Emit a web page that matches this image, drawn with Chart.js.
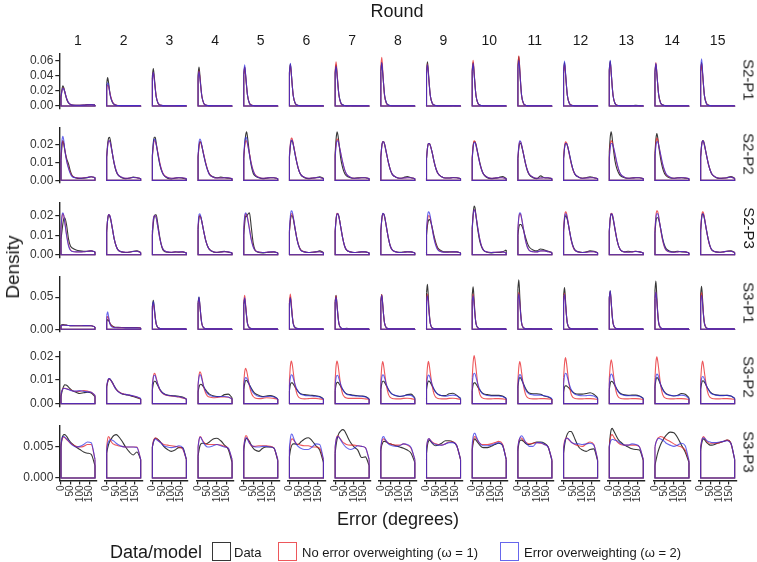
<!DOCTYPE html>
<html>
<head>
<meta charset="utf-8">
<script src="https://cdn.jsdelivr.net/npm/chart.js@4.4.1/dist/chart.umd.min.js"></script>
<style>
  body { margin: 0; background: #fff; font-family: "Liberation Sans", Arial, sans-serif; color: #1a1a1a; }
  #wrap { position: relative; width: 757px; height: 562px; overflow: hidden; }
  #wrap canvas { position: absolute; }
  .lbl { position: absolute; white-space: nowrap; transform: translate(-50%, -50%); }
  .lft { position: absolute; white-space: nowrap; transform: translateY(-50%); }
  .key { position: absolute; width: 17px; height: 17px; border: 1px solid; background: #fff; }
</style>
</head>
<body>
<div id="wrap"></div>
<script>
// density values are in units of 0.001 (the y axes print them back as densities)
const xs = [0, 5, 10, 15, 20, 30, 40, 50, 60, 80, 100, 120, 140, 160, 180];
const rounds = ['1','2','3','4','5','6','7','8','9','10','11','12','13','14','15'];
const panelNames = ['S2-P1', 'S2-P2', 'S2-P3', 'S3-P1', 'S3-P2', 'S3-P3'];
const seriesNames = ['Data', 'No error overweighting (\u03c9 = 1)', 'Error overweighting (\u03c9 = 2)'];
const rowMax = [66.7, 27.8, 25.6, 78, 21.2, 8.06];
const yTicks = [[0, 20, 40, 60], [0, 10, 20], [0, 10, 20], [0, 50], [0, 10, 20], [0, 5]];
const yDecimals = [2, 2, 2, 2, 2, 3];
const xTicks = [0, 50, 100, 150];

const s2p1Data = [
  [12,22,27,24,19,9,4,2,1.2,1,1,1.2,1.8,2,1.5],
  [30,38,31,21,13,5,2,1,0.6,0.5,0.5,0.5,0.5,0.5,0.4],
  [40,50,39,25,13,3.5,1.3,0.7,0.5,0.4,0.4,0.4,0.5,0.5,0.4],
  [42,52,40,25,13,3.5,1.2,0.6,0.5,0.4,0.4,0.4,0.4,0.4,0.3],
  [42,52,40,26,14,3.6,1.3,0.6,0.4,0.4,0.4,0.4,0.4,0.4,0.3],
  [45,56,43,27,14,3.8,1.3,0.6,0.4,0.4,0.4,0.4,0.4,0.4,0.3],
  [44,55,43,28,15,4.5,1.6,0.7,0.5,0.6,0.5,0.4,0.4,0.4,0.3],
  [46,58,44,28,14,3.8,1.3,0.6,0.4,0.4,0.4,0.4,0.4,0.5,0.3],
  [47,59,45,28,14,3.8,1.3,0.6,0.4,0.5,0.4,0.4,0.6,0.4,0.3],
  [46,58,44,28,14,3.8,1.3,0.6,0.4,0.4,0.4,0.4,0.4,0.4,0.3],
  [53,66,48,28,13,3.2,1,0.5,0.4,0.4,0.4,0.4,0.4,0.4,0.3],
  [46,58,44,28,14,3.8,1.3,0.6,0.4,0.4,0.4,0.4,0.4,0.4,0.3],
  [48,60,45,28,14,3.6,1.2,0.6,0.4,0.4,0.4,0.6,0.8,0.5,0.3],
  [45,56,43,27,14.5,4.2,1.6,0.7,0.4,0.4,0.4,0.4,0.4,0.4,0.3],
  [46,58,44,28,14,3.8,1.3,0.6,0.4,0.4,0.4,0.4,0.4,0.6,0.3]
];
const s2p1Omega1 = [
  [12,20,24,23,19,10,4.5,2.2,1.3,1,1,1.2,1.6,1.8,1.3],
  [24,28,26,20,14,6,2.5,1.2,0.7,0.5,0.5,0.5,0.5,0.5,0.4],
  [37,45,36,24,13,4,1.5,0.8,0.5,0.4,0.4,0.4,0.5,0.5,0.4],
  [38,47,37,24,13,3.8,1.4,0.7,0.5,0.4,0.4,0.4,0.4,0.4,0.3],
  [42,52,40,26,14,3.8,1.3,0.6,0.4,0.4,0.4,0.4,0.4,0.4,0.3],
  [44,55,42,27,14,3.8,1.3,0.6,0.4,0.4,0.4,0.4,0.4,0.4,0.3],
  [47,59,45,28,14,3.6,1.2,0.6,0.4,0.4,0.4,0.4,0.4,0.4,0.3],
  [52,65,48,28,13,3.3,1.1,0.5,0.4,0.4,0.4,0.4,0.4,0.4,0.3],
  [45,56,43,27,14,3.8,1.3,0.6,0.4,0.4,0.4,0.4,0.4,0.4,0.3],
  [49,61,46,28,14,3.6,1.2,0.6,0.4,0.4,0.4,0.4,0.4,0.4,0.3],
  [54,67,49,28,13,3.2,1,0.5,0.4,0.4,0.4,0.4,0.4,0.4,0.3],
  [45,56,43,27,14,3.8,1.3,0.6,0.4,0.4,0.4,0.4,0.4,0.4,0.3],
  [46,58,44,28,14,3.8,1.3,0.6,0.4,0.4,0.4,0.4,0.4,0.4,0.3],
  [46,58,44,28,14,3.8,1.3,0.6,0.4,0.4,0.4,0.4,0.4,0.4,0.3],
  [46,57,43,27,14,3.8,1.3,0.6,0.4,0.4,0.4,0.4,0.4,0.4,0.3]
];
const s2p1Omega2 = [
  [12,20,23.5,22.5,19,10,4.5,2.2,1.3,1,1,1.2,1.6,1.8,1.3],
  [26,31,28,20,13,5.5,2.2,1.1,0.6,0.5,0.5,0.5,0.5,0.5,0.4],
  [37,45,35,23,12.5,4,1.5,0.8,0.5,0.4,0.4,0.4,0.5,0.5,0.4],
  [37,46,36,24,13,3.8,1.4,0.7,0.5,0.4,0.4,0.4,0.4,0.4,0.3],
  [44,55,42,27,14,3.6,1.2,0.6,0.4,0.4,0.4,0.4,0.4,0.4,0.3],
  [46,57,43,27,14,3.8,1.3,0.6,0.4,0.4,0.4,0.4,0.4,0.4,0.3],
  [43,53,41,27,14.5,4,1.4,0.6,0.4,0.4,0.4,0.4,0.4,0.4,0.3],
  [46,58,44,28,14,3.8,1.3,0.6,0.4,0.4,0.4,0.4,0.4,0.4,0.3],
  [44,55,42,27,14,3.8,1.3,0.6,0.4,0.4,0.4,0.4,0.4,0.4,0.3],
  [46,57,43,27,14,3.8,1.3,0.6,0.4,0.4,0.4,0.4,0.4,0.4,0.3],
  [49,61,46,28,13.5,3.5,1.2,0.5,0.4,0.4,0.4,0.4,0.4,0.4,0.3],
  [48,60,45,28,14,3.7,1.2,0.6,0.4,0.4,0.4,0.4,0.4,0.4,0.3],
  [49,61,46,28,14,3.6,1.2,0.6,0.4,0.4,0.4,0.4,0.4,0.4,0.3],
  [46,57,43,27,14,3.8,1.3,0.6,0.4,0.4,0.4,0.4,0.4,0.4,0.3],
  [50,63,47,28,13.5,3.4,1.1,0.5,0.4,0.4,0.4,0.4,0.4,0.4,0.3]
];

const s2p2Data = [
  [11,19,22,20,17,12,9,5,2.5,1.3,1,1.2,1.5,2,1.5],
  [13,20,23.5,24,22,15,9,5,3,1.5,1,1.2,1.8,1.5,1],
  [14,21,24,24,21,14,8.5,5,3,1.2,0.8,1.2,1.5,1.2,0.8],
  [13,19,21.5,21,19,14,9.5,6,3.5,2,1.5,1.8,1.5,1.2,1],
  [12,20,25,27,24,15,8,4,2.5,1.5,1,1.2,1.5,1.5,1],
  [13,19,22,22,20,14.5,9.5,5.5,3.2,1.5,1,1.2,1.5,2,1.2],
  [15,23,27,25,21,12,7,4,2.5,1.5,1.2,1.5,1.5,1.5,1],
  [13,19,21.5,21.5,20,15,10,6,3.5,1.8,1.2,1.5,2.2,1.5,1],
  [12,18,20.5,20.5,19.5,15.5,10.5,6.5,4,2,1.3,1.3,1.6,1.5,1],
  [12,19,21.5,21.5,20,15,10,6,3.5,1.5,1,1.2,1.5,2.2,1],
  [12,18,20.5,20.5,19,14.5,9.5,5.5,3.2,1.5,1,2.5,1.5,1.3,1],
  [12,18,20.5,20.5,19.5,15,10,6,3.5,1.8,1.2,1.5,2,1.5,1],
  [16,24,27,24,19,11,6.5,4,2.5,1.5,1.2,1.3,1.5,1.5,1],
  [15,23,26,23.5,19,12,7,4,2.5,1.3,1.2,1.5,1.5,1.2,1],
  [13,19.5,22,22,20,14.5,9.5,5.8,3.4,1.6,1.1,1.2,1.5,2.2,1.2]
];
const s2p2Omega1 = [
  [13,20,22,20.5,17,11,7,4,2.3,1.5,1.3,1.4,1.7,2,1.5],
  [13,19,22,22,20.5,15,9.5,5.5,3.2,1.7,1.2,1.3,1.6,1.5,1],
  [13,19,22,22,20,15,9.5,5.5,3.2,1.7,1.2,1.3,1.5,1.5,1],
  [13,19,21.5,21,19,14.5,10,6,3.5,1.8,1.3,1.3,1.5,1.5,1],
  [13,19,22,22,20,15,9.5,5.5,3.2,1.7,1.2,1.3,1.5,1.5,1],
  [14,20.5,23.5,23,20.5,15,9.5,5.5,3.2,1.7,1.2,1.3,1.5,1.6,1],
  [14,20,23,22.5,20,15,10,6,3.5,1.8,1.2,1.2,1.5,1.5,1],
  [13,19,21.5,21.5,20,15,10,6,3.5,1.8,1.2,1.3,1.5,1.5,1],
  [12,18,20.5,20.5,19.5,15.5,10.5,6.5,4,2,1.3,1.3,1.5,1.5,1],
  [13,19.5,22,21.5,19.5,14.5,9.5,5.8,3.4,1.8,1.2,1.3,1.5,1.5,1],
  [12,19,21.5,21.5,19.5,14.5,9.5,5.8,3.4,1.8,1.2,1.3,1.5,1.5,1],
  [13,19,21.5,21,19.5,14.5,9.5,5.8,3.4,1.8,1.2,1.3,1.5,1.5,1],
  [13,19.5,22,21.5,19.5,14.5,9.5,5.8,3.4,1.8,1.2,1.3,1.5,1.5,1],
  [14,21,23.5,22.5,19.5,14,9,5.5,3.2,1.7,1.2,1.3,1.5,1.5,1],
  [13,19.5,22,21.5,19.5,14.5,9.5,5.8,3.4,1.8,1.2,1.3,1.5,1.8,1]
];
const s2p2Omega2 = [
  [14,22,24.5,22,17,10.5,6.5,3.5,2,1.4,1.2,1.3,1.6,2,1.5],
  [13,19,22,22,20.5,15,9.5,5.5,3.2,1.7,1.2,1.3,1.6,1.5,1],
  [14,20,23,22.5,20,14.5,9,5.2,3,1.6,1.2,1.3,1.5,1.5,1],
  [14,21,23,22,19.5,14,9.5,5.8,3.3,1.8,1.3,1.3,1.5,1.5,1],
  [14,21,24,23.5,20.5,14.5,9,5.2,3,1.6,1.2,1.3,1.5,1.5,1],
  [14,20,22.5,22,20,14.5,9.5,5.5,3.2,1.7,1.2,1.3,1.5,1.6,1],
  [13,19,22,22,20,15,10,6,3.5,1.8,1.2,1.2,1.5,1.5,1],
  [13,19,21.5,21.5,20,15,10,6,3.5,1.8,1.2,1.3,1.5,1.5,1],
  [12,18,20.5,20.5,19.5,15.5,10.5,6.5,4,2,1.3,1.3,1.5,1.5,1],
  [12,18.5,21,21,19.5,14.5,9.5,5.8,3.4,1.8,1.2,1.3,1.5,1.5,1],
  [13,19.5,22,21.5,19.5,14.5,9.5,5.8,3.4,1.8,1.2,1.3,1.5,1.5,1],
  [12,18,20.5,20.5,19.5,15,10,6,3.5,1.8,1.2,1.3,1.5,1.5,1],
  [12,18,20.5,20.5,19.5,15,10,6,3.5,1.8,1.2,1.3,1.5,1.5,1],
  [13,19,21.5,21.5,19.5,14.5,9.5,5.8,3.4,1.8,1.2,1.3,1.5,1.5,1],
  [13,19.5,22,21.5,19.5,14.5,9.5,5.8,3.4,1.8,1.2,1.3,1.5,1.8,1]
];

const s2p3Data = [
  [8,12,16,18.5,19,15,8,4.5,3.5,2.5,2,1.8,1.8,2,1.5],
  [12,18,20.5,20,18.5,13.5,8,4.5,2.5,1.5,1.2,1.3,1.8,2,1.2],
  [10,16,19.5,20.5,20.5,15,8.5,4,2,1.3,1.2,1.5,1.3,1.5,1],
  [13,19,20,19,17,12,7.5,4.5,2.8,1.5,1.2,1.5,1.8,1.3,1],
  [10,16,20,19.5,20.5,21.5,14,6,2.5,1.2,1,1.2,1.3,1.5,1],
  [12,17.5,20,20,18.5,13,8,4.5,2.5,1.5,1.2,1.3,1.5,2,1.2],
  [12,18,21,21,19.5,14,8.5,4.5,2.5,1.5,1.2,1.3,1.5,1.5,1],
  [12,18,21,21,19.5,14,8.5,4.5,2.6,1.6,1.3,1.4,1.6,1.5,1],
  [10,15,17.5,18,17.5,14,9.5,6,3.5,2,1.5,1.5,1.5,1.5,1],
  [14,21,25,24,20,12.5,7,4,2.3,1.3,1,1.2,1.2,1.5,2.5],
  [10,14,15.5,15.5,15,12.5,9,6,4,2.5,2,3,2.5,1.8,1.2],
  [12,18,20,19.5,18,13,8,4.5,2.5,1.5,1.2,1.5,2,1.8,1],
  [12,18.5,21,20.5,18.5,13,8,4.3,2.4,1.5,1.8,1.6,1.8,1.5,1],
  [11,17,19,19,18,13.5,8.5,5,3,1.8,1.5,1.8,1.5,1.5,1],
  [12,18.5,21,20.5,18.5,13,8,4.3,2.4,1.5,1.3,1.5,1.8,2,1.2]
];
const s2p3Omega1 = [
  [13,19,21,20,17,10,5,2.5,1.8,1.5,1.5,1.6,1.8,2,1.5],
  [12,18,20.5,20.5,19,13.5,8,4.5,2.5,1.5,1.3,1.4,1.7,1.8,1.2],
  [12,18,20,20,19,13.5,8,4.3,2.4,1.5,1.3,1.4,1.5,1.5,1],
  [14,19.5,20,19,17,12,7.5,4.5,2.8,1.6,1.3,1.4,1.6,1.5,1],
  [13,19,21,20.5,19,13.5,8,4.2,2.3,1.4,1.2,1.3,1.5,1.5,1],
  [12,18.5,21,21,19,13.5,8,4.3,2.4,1.5,1.2,1.3,1.5,1.6,1],
  [12,18.5,21.2,21,19.5,14,8.5,4.5,2.5,1.5,1.2,1.3,1.5,1.5,1],
  [12,18,21,21,19.5,14,8.5,4.5,2.5,1.5,1.2,1.3,1.5,1.5,1],
  [12,17.5,20,20,18.5,13.5,8.5,5,2.8,1.6,1.3,1.4,1.5,1.5,1],
  [13,20,23,22.5,20,13.5,8,4.3,2.4,1.4,1.2,1.3,1.4,1.5,1],
  [13,19,21,20.5,18.5,13,7.5,4,2.3,1.6,1.5,2,2,1.6,1.2],
  [13,19.5,22,21.5,19,13,7.5,4,2.3,1.4,1.2,1.3,1.6,1.6,1],
  [12,18.5,21.3,21,19,13.5,8,4.3,2.4,1.5,1.3,1.5,1.8,1.5,1],
  [13,20,22.5,22,19.5,13,7.5,4,2.3,1.4,1.3,1.5,1.7,1.5,1],
  [13,19.5,22,21.5,19,13,7.8,4.2,2.4,1.5,1.3,1.5,1.8,1.8,1.2]
];
const s2p3Omega2 = [
  [14,20,21.5,20,16.5,9.5,4.5,2.3,1.7,1.5,1.5,1.6,1.8,2,1.5],
  [12,18,20.5,20.5,19,13.5,8,4.5,2.5,1.5,1.3,1.4,1.7,1.8,1.2],
  [12,18,20,20,19,13.5,8,4.3,2.4,1.5,1.3,1.4,1.5,1.5,1],
  [15,20.5,21,19.5,17,12,7.5,4.5,2.8,1.6,1.3,1.4,1.6,1.5,1],
  [14,20,21.5,20.5,18.5,13,7.5,4,2.2,1.4,1.2,1.3,1.5,1.5,1],
  [13,20,22.5,22,19.5,13.5,7.8,4.2,2.3,1.5,1.2,1.3,1.5,1.6,1],
  [12,18,21,21,19.5,14,8.5,4.5,2.5,1.5,1.2,1.3,1.5,1.5,1],
  [12,18.2,21.2,21,19.5,14,8.5,4.5,2.5,1.5,1.2,1.3,1.5,1.5,1],
  [13,19.5,22,21.5,19.5,13.5,8,4.5,2.5,1.5,1.3,1.4,1.5,1.5,1],
  [13,20,23,22.5,20,13.5,8,4.3,2.4,1.4,1.2,1.3,1.4,1.5,1],
  [13.5,19.5,21.5,21,18.5,13,7.5,4,2.3,1.6,1.5,2,2,1.6,1.2],
  [12.5,19,21,20.5,18.5,13,7.8,4.2,2.4,1.4,1.2,1.3,1.6,1.6,1],
  [12,18.5,21,20.8,19,13.5,8,4.3,2.4,1.5,1.3,1.5,1.7,1.5,1],
  [12.5,19,21,21,19,13.5,8,4.3,2.4,1.5,1.3,1.5,1.7,1.5,1],
  [12.5,19,21,20.5,18.5,13,8,4.3,2.4,1.5,1.3,1.5,1.8,1.8,1.2]
];

const s3p1Data = [
  [6.5,7,7.2,7,6.8,6.3,5.8,5.5,5.4,5.4,5.4,5.5,5.5,5.3,3.5],
  [12,15,13.5,10.5,8,5,3.5,3,2.8,2.6,2.5,2.5,2.5,2.5,2],
  [36,45,34,20,9,2.5,1.2,0.8,0.7,0.6,0.6,0.6,0.6,0.6,0.5],
  [41,50,36,20,8.5,2,1,0.7,0.6,0.6,0.6,0.6,0.6,0.6,0.5],
  [39,48,35,20,8.5,2.5,1.2,0.7,0.6,0.6,0.6,0.6,0.6,0.6,0.5],
  [41,50,36,20,9,3,1.5,0.8,0.6,0.6,0.6,0.6,0.6,0.6,0.5],
  [43,53,38,21,9,2.2,1,0.8,1.5,0.6,0.6,0.6,0.6,0.6,0.5],
  [44,54,39,21,9,2.2,1,0.7,0.6,0.6,0.6,0.6,0.6,0.6,0.5],
  [57,70,48,24,9,2,1,0.7,0.6,0.6,0.6,0.6,0.6,0.6,0.5],
  [54,66,46,23,9,2.2,1,0.7,0.6,1,0.6,0.6,0.6,0.6,0.5],
  [63,77,51,24,8.5,2,0.9,0.7,1.2,0.6,0.6,0.6,0.6,0.6,0.5],
  [53,65,46,23,9,2.2,1,0.7,0.6,0.6,0.6,1,0.6,0.6,0.5],
  [49,60,43,22,9,2.2,1,0.7,0.6,0.6,0.6,0.6,0.6,0.6,0.5],
  [61,75,50,24,8.5,2,0.9,0.7,0.6,0.6,1,0.6,0.6,0.6,0.5],
  [55,67,47,23,9,2.1,1,0.7,0.6,0.6,0.6,0.6,0.6,0.6,0.5]
];
const s3p1Omega1 = [
  [5.5,6,6.2,6.2,6.1,5.9,5.7,5.6,5.5,5.4,5.4,5.5,5.5,5.3,3.5],
  [16,20,17,11.5,7.5,4,3,2.6,2.5,2.4,2.3,2.3,2.3,2.3,1.8],
  [33,40,30,17,8,2.5,1.2,0.8,0.7,0.6,0.6,0.6,0.6,0.6,0.5],
  [39,48,35,19.5,8.2,2,1,0.7,0.6,0.6,0.6,0.6,0.6,0.6,0.5],
  [43,53,38,21,9,2.1,1,0.7,0.6,0.6,0.6,0.6,0.6,0.6,0.5],
  [45,55,40,22,9.3,2.2,1,0.7,0.6,0.6,0.6,0.6,0.6,0.6,0.5],
  [43,52,37,21,8.8,2.1,1,0.7,0.6,0.6,0.6,0.6,0.6,0.6,0.5],
  [44,54,39,21.5,9,2.2,1,0.7,0.6,0.6,0.6,0.6,0.6,0.6,0.5],
  [45,55,40,22,9.3,2.2,1,0.7,0.6,0.6,0.6,0.6,0.6,0.6,0.5],
  [45,55,40,22,9.3,2.2,1,0.7,0.6,0.6,0.6,0.6,0.6,0.6,0.5],
  [47,57,41,23,9.6,2.3,1,0.7,0.6,0.6,0.6,0.6,0.6,0.6,0.5],
  [46,56,40,22,9.5,2.2,1,0.7,0.6,0.6,0.6,0.6,0.6,0.6,0.5],
  [48,58,42,23,9.8,2.3,1,0.7,0.6,0.6,0.6,0.6,0.6,0.6,0.5],
  [48,58,42,23,9.8,2.3,1,0.7,0.6,0.6,0.6,0.6,0.6,0.6,0.5],
  [47,57,41,23,9.6,2.3,1,0.7,0.6,0.6,0.6,0.6,0.6,0.6,0.5]
];
const s3p1Omega2 = [
  [5.5,6,6.2,6.2,6.1,5.9,5.7,5.6,5.5,5.4,5.4,5.5,5.5,5.3,3.5],
  [21,27,20,11,6,3.2,2.5,2.3,2.2,2.2,2.1,2.1,2.1,2.1,1.8],
  [35,43,32,18,8,2.3,1.1,0.8,0.7,0.6,0.6,0.6,0.6,0.6,0.5],
  [41,50,36,20,8.5,2,1,0.7,0.6,0.6,0.6,0.6,0.6,0.6,0.5],
  [40,49,35,20,8.3,2,1,0.7,0.6,0.6,0.6,0.6,0.6,0.6,0.5],
  [40,49,35,20,8.3,2,1,0.7,0.6,0.6,0.6,0.6,0.6,0.6,0.5],
  [41,50,36,20,8.5,2,1,0.7,0.6,0.6,0.6,0.6,0.6,0.6,0.5],
  [43,53,38,21,9,2.1,1,0.7,0.6,0.6,0.6,0.6,0.6,0.6,0.5],
  [43,52,37,21,8.8,2.1,1,0.7,0.6,0.6,0.6,0.6,0.6,0.6,0.5],
  [43,52,37,21,8.8,2.1,1,0.7,0.6,0.6,0.6,0.6,0.6,0.6,0.5],
  [45,55,40,22,9.3,2.2,1,0.7,0.6,0.6,0.6,0.6,0.6,0.6,0.5],
  [44,54,39,21.5,9,2.2,1,0.7,0.6,0.6,0.6,0.6,0.6,0.6,0.5],
  [49,60,43,24,10,2.4,1,0.7,0.6,0.6,0.6,0.6,0.6,0.6,0.5],
  [48,58,42,23,9.8,2.3,1,0.7,0.6,0.6,0.6,0.6,0.6,0.6,0.5],
  [43,53,38,21,9,2.1,1,0.7,0.6,0.6,0.6,0.6,0.6,0.6,0.5]
];

const s3p2Data = [
  [3,5,6.5,7.5,8,7.8,7,6.2,5.5,4.8,4.3,4.6,4.8,4.5,3],
  [7,9,10.3,10.5,10.2,9,7.5,6.2,5.3,4.2,3.8,3.5,3,2.5,2],
  [6,8.5,9.5,9.5,9,7.5,6,5,4.3,3.6,3.4,3.3,3.1,2.8,2],
  [5,7,8,8.2,8,7,5.8,4.8,4,3.3,3,3,3.8,4,2.5],
  [6,8.5,9.8,9.8,9.3,8,6.5,5.2,4.3,3.5,3,3.2,3.4,3,2],
  [5.5,8,8.8,8.8,8.3,7,5.8,4.8,4.2,3.8,3.6,3.5,3.3,3,2],
  [5.5,8,9,9,8.5,7.2,6,4.9,4.2,3.8,3.5,3.3,3.2,3,2],
  [6,8.5,9.5,9.5,9,7.5,6,4.8,4,3.3,3,3.2,3.8,4,2.5],
  [6,8.5,9.6,9.5,9,7.5,6,4.8,4,3.4,3.4,4.2,4.4,3.5,2.2],
  [5.5,8,8.8,8.8,8.3,7,5.8,4.8,4.2,3.8,3.5,3.5,3.5,3.2,2.2],
  [7,10,11,10.8,10,8.3,6.5,5.2,4.5,4.2,4.2,4,3.2,2.8,2],
  [5,7,7.5,7.5,7.2,6.5,5.6,4.8,4.3,4,4,4.3,4.6,4,2.5],
  [6,8.5,9.5,9.4,9,7.6,6.2,5,4.3,3.7,3.5,3.6,3.6,3.2,2.2],
  [7,10,11,10.8,10,8,6.3,5,4.2,3.5,3.2,3.5,4.3,4,2.5],
  [6,8.6,9.7,9.6,9.1,7.6,6.2,5,4.3,3.7,3.5,3.5,3.5,3.2,2.2]
];
const s3p2Omega1 = [
  [4,5.5,6.3,6.5,6.5,6.3,6,5.8,5.5,5.2,5.2,5.5,5.3,4.8,3.5],
  [7.5,9.3,10.5,10.5,10,8.8,7.3,6,5.2,4.3,3.9,3.6,3.2,2.8,2],
  [8,11.5,12.8,12.5,11,8,5.8,4.6,4,3.4,3.2,3,2.8,2.4,2],
  [8,12,13.5,12.8,11,7,4.5,3.2,2.8,2.5,2.6,2.8,2.8,2.7,2],
  [9,13.5,15,14,12,7.5,4.5,3,2.4,2.1,2.2,2.5,2.4,2.2,1.8],
  [10,16,18,16.5,13.5,7.5,4,2.6,2.2,2,2.1,2.2,2.2,2,1.8],
  [10,16,18,16.5,13.5,7.5,4,2.8,2.4,2.2,2.2,2.2,2.2,2,1.8],
  [10,15.5,17.8,16,13,7.5,4,2.6,2.2,2,2,2.2,2.3,2.1,1.8],
  [10,15.5,17.9,16,13,7.5,4,2.6,2.2,2,2,2.2,2.3,2.1,1.8],
  [11,17.5,20.4,18.5,15,8,4,2.6,2.2,2,2,2.1,2.1,2,1.8],
  [10,15.5,17.8,16,13,7.5,4,2.6,2.2,2,2,2.1,2.1,2,1.8],
  [11,17,19.5,17.5,14,7.8,4,2.6,2.2,2,2,2.1,2.1,2,1.8],
  [10.5,16,18.6,17,13.8,7.6,4,2.6,2.2,2,2,2.1,2.1,2,1.8],
  [11,17.5,19.8,17.8,14.5,7.8,4,2.6,2.2,2,2,2.1,2.1,2,1.8],
  [10,15.6,18,16.2,13.2,7.5,4,2.6,2.2,2,2,2.1,2.1,2,1.8]
];
const s3p2Omega2 = [
  [4,5.5,6.2,6.4,6.4,6.2,6,5.6,5.4,5.3,5.5,5.2,5,4.8,3.5],
  [7.5,9.5,10.6,10.6,10.1,8.8,7.3,6,5.1,4.2,3.9,3.6,3.3,2.9,2.2],
  [8,11,12,11.8,10.5,8,6,4.8,4.2,3.5,3.3,3.1,2.9,2.5,2],
  [8,11.3,12.3,11.8,10.4,7.3,5.3,4.2,3.6,3,2.9,3,3,2.8,2],
  [8,10.3,11,10.8,10,8,6,4.6,3.8,3,2.8,3,3.1,2.8,2],
  [8,11,12.2,12,10.8,8,6,4.7,4,3.5,3.3,3.2,3.1,2.8,2],
  [8,11,12,11.8,10.6,8,6,4.7,4,3.6,3.3,3.2,3.1,2.8,2],
  [8,11,12.2,12,10.8,8,6,4.8,4,3.4,3.1,3.3,3.6,3.5,2.2],
  [8,11,12.1,11.8,10.6,8,6,4.7,4,3.4,3.1,3.4,3.6,3.3,2.2],
  [8.5,11.8,12.9,12.6,11.2,8.2,6,4.6,3.9,3.4,3.2,3.2,3.2,3,2.2],
  [8,11.2,12.3,12,10.8,8,6,4.7,4.1,3.7,3.6,3.6,3.3,3,2.2],
  [8.5,11.8,12.9,12.6,11.2,8.2,6,4.7,4,3.5,3.3,3.4,3.5,3.2,2.2],
  [8.2,11.4,12.5,12.2,11,8,6,4.7,4,3.5,3.3,3.3,3.3,3.1,2.2],
  [8.2,11.4,12.5,12.2,11,8,6,4.7,4,3.5,3.3,3.4,3.6,3.3,2.2],
  [7.8,10.6,11.5,11.3,10.3,7.8,6,4.8,4.1,3.6,3.4,3.4,3.5,3.2,2.2]
];

const s3p3Data = [
  [5,6.3,6.8,7,7,6.7,6.2,5.8,5.5,5,4.6,4.2,4,3.8,2],
  [4,4.8,5.4,5.8,6.1,6.6,6.9,7,6.8,6,5,4.2,3.7,4.2,3],
  [5,5.8,6.2,6.4,6.4,6.2,5.9,5.5,5.1,4.6,4.3,4.5,4.9,4.9,3],
  [3.5,4.5,5.2,5.5,5.6,5.6,5.5,5.6,5.8,6.3,6.4,6,5.3,4.6,2.5],
  [4.5,5.6,6.2,6.4,6.3,5.9,5.3,4.8,4.5,4.3,4.8,5,5,4.8,2.8],
  [3.5,4.5,5.1,5.4,5.5,5.5,5.4,5.5,5.8,6.3,6.5,6,5.2,4.5,2.5],
  [4,5.3,6.2,6.8,7.2,7.6,7.8,7.6,7,5.8,5,4.5,3.3,3.4,2],
  [4.5,5.3,5.7,5.9,5.9,5.8,5.6,5.5,5.4,5.2,5,4.8,4.5,4,2.5],
  [4,5.3,5.9,6.1,6,5.6,5.3,5.2,5.3,5.6,6,6,5.8,5.2,3],
  [4.5,5.6,6.2,6.3,6.1,5.7,5.3,5,4.9,4.9,5.1,5.4,5.6,5.3,3],
  [4.5,5.5,6,6.1,6.1,5.9,5.6,5.4,5.4,5.6,5.8,5.8,5.6,5,2.8],
  [4,5.2,6.1,6.7,7.1,7.5,7.5,7,6.3,5,4.5,4.3,4.6,4.7,2.8],
  [5,6.8,7.8,8,7.8,7.2,6.6,6.1,5.8,5.3,5,4.7,4.6,4.5,2.8],
  [2,2.8,3.5,4.1,4.6,5.4,6,6.5,6.9,7.4,7.3,6.5,5.3,4.2,2.5],
  [4.5,5.5,6.1,6.3,6.2,5.8,5.5,5.3,5.3,5.5,5.7,5.9,6.1,5.6,3]
];
const s3p3Omega1 = [
  [5.5,6.2,6.5,6.6,6.5,6.2,5.9,5.6,5.4,5.1,5,5.1,5.4,5.4,3],
  [5,6.3,6.7,6.5,6.1,5.6,5.4,5.3,5.2,5.1,5,5,5,5,3],
  [5,5.9,6.3,6.5,6.4,6.1,5.8,5.6,5.4,5.3,5.2,5.1,5,4.7,3],
  [5,6.2,6.7,6.6,6.3,5.8,5.5,5.4,5.4,5.4,5.4,5.3,5.1,4.8,3],
  [5,6.2,6.8,6.8,6.4,5.7,5.2,5.1,5.1,5.2,5.2,5.2,5.1,4.8,3],
  [4.5,5.6,6.2,6.3,6.2,5.8,5.5,5.4,5.3,5.2,5.2,5,5,4.8,3],
  [5,6.2,6.7,6.8,6.6,6.2,5.8,5.6,5.4,5.3,5.3,5.2,5.1,4.9,3],
  [4.8,5.8,6.2,6.3,6.2,5.9,5.6,5.5,5.4,5.3,5.3,5.5,5.3,4.8,3],
  [5,5.9,6.3,6.3,6.1,5.8,5.6,5.5,5.4,5.3,5.5,5.8,5.8,5.2,3],
  [5,6,6.6,6.7,6.5,6,5.6,5.4,5.4,5.4,5.5,5.7,5.9,5.5,3],
  [5,6,6.4,6.5,6.4,6.1,5.8,5.6,5.5,5.6,5.7,5.6,5.4,5,3],
  [5,5.9,6.3,6.5,6.4,6.1,5.8,5.6,5.4,5.2,5.1,5.5,5.8,5.4,3],
  [5,6.3,6.9,7,6.8,6.3,5.9,5.6,5.4,5.3,5.3,5.3,5.3,5,3],
  [5,5.7,6.1,6.4,6.5,6.7,6.6,6.4,6.2,5.9,5.5,5.2,5,4.5,2.8],
  [5,6,6.5,6.7,6.5,6,5.7,5.6,5.6,5.6,5.7,5.9,6.1,5.6,3]
];
const s3p3Omega2 = [
  [5.5,6.3,6.7,6.7,6.6,6.3,6,5.6,5.3,5,5.1,5.4,5.8,5.7,3],
  [4.5,5.5,5.9,6.1,6.2,6.1,5.9,5.6,5.4,5.1,5,5,5,4.9,3],
  [5,5.7,6.1,6.3,6.2,6,5.8,5.5,5.2,5,4.9,5,5.2,4.9,3],
  [5,6.1,6.6,6.5,6.2,5.6,5.2,5,5,5.2,5.4,5.2,5,4.8,3],
  [5,6,6.5,6.5,6.2,5.6,5.3,5.1,5,5,5.1,5.1,5,4.8,3],
  [5,6.4,7.1,7,6.6,5.8,5.3,5,4.8,4.6,4.6,5,5.5,5.4,3],
  [5,6.1,6.6,6.7,6.6,6.1,5.6,5.2,4.9,4.6,4.8,5.2,5.1,4.9,3],
  [5,6.1,6.6,6.7,6.4,5.9,5.5,5.3,5.2,5.1,5.2,5.5,5.4,4.9,3],
  [5,5.9,6.3,6.3,6.1,5.7,5.5,5.4,5.3,5.3,5.5,5.7,5.7,5.2,3],
  [5.5,6.7,7.2,7.2,6.8,6.1,5.6,5.3,5.2,5.2,5.3,5.5,5.7,5.3,3],
  [5,5.9,6.4,6.7,6.8,6.4,5.8,5.4,5.1,5.1,5.7,5.7,5.4,5,3],
  [4.8,5.7,6.2,6.4,6.4,6.2,5.8,5.6,5.5,5.5,5.4,5.5,5.6,5.3,3],
  [5,5.8,6.1,6.2,6.2,6.1,6,5.8,5.6,5.3,5.3,5.5,5.4,5,3],
  [5,5.7,6.1,6.3,6.4,6.3,6.1,5.9,5.6,5.3,5.1,5.3,5.6,5.2,2.8],
  [5,5.9,6.4,6.5,6.4,6.1,5.9,5.8,5.7,5.7,5.8,5.9,6,5.6,3]
];

// [data, omega = 1, omega = 2] for each panel row
const rowSeries = [
  [s2p1Data, s2p1Omega1, s2p1Omega2],
  [s2p2Data, s2p2Omega1, s2p2Omega2],
  [s2p3Data, s2p3Omega1, s2p3Omega2],
  [s3p1Data, s3p1Omega1, s3p1Omega2],
  [s3p2Data, s3p2Omega1, s3p2Omega2],
  [s3p3Data, s3p3Omega1, s3p3Omega2]
];
const seriesColors = ['rgba(20,20,20,0.85)', 'rgba(232,40,45,0.78)', 'rgba(45,45,228,0.72)'];
const seriesOrder = [2, 1, 0]; // blue drawn on top

const wrap = document.getElementById('wrap');
const PW = 37.4, PH = 55;
const panelLeft = c => 59.3 + c * 45.69;
const panelTop = r => 53.5 + r * 74.4;

function addLabel(text, x, y, size, rotate, cls) {
  const d = document.createElement('div');
  d.className = cls || 'lbl';
  d.textContent = text;
  d.style.left = x + 'px';
  d.style.top = y + 'px';
  d.style.fontSize = size + 'px';
  if (rotate) d.style.transform = 'translate(-50%, -50%) rotate(' + rotate + 'deg)';
  wrap.appendChild(d);
}

function curvePoints(vals) {
  return xs.map((x, i) => ({ x: x, y: vals[i] }));
}
function outlinePoints(vals) {
  return [{ x: 0, y: vals[0] }, { x: 0, y: 0 }, { x: 180, y: 0 }, { x: 180, y: vals[vals.length - 1] }];
}

for (let r = 0; r < panelNames.length; r++) {
  const hi = rowMax[r];
  for (let c = 0; c < rounds.length; c++) {
    const L = panelLeft(c), T = panelTop(r);
    const yAxisW = c === 0 ? 46 : 0;
    const xAxisH = r === 5 ? 30 : 0;
    const left = Math.floor(L - yAxisW - 8);
    const top = Math.floor(T - 9);
    const right = Math.ceil(L + PW + 8);
    const bottom = Math.ceil(T + PH + xAxisH + 9);

    const cv = document.createElement('canvas');
    cv.width = right - left;
    cv.height = bottom - top;
    cv.style.left = left + 'px';
    cv.style.top = top + 'px';
    cv.style.width = (right - left) + 'px';
    cv.style.height = (bottom - top) + 'px';
    wrap.appendChild(cv);

    const datasets = [];
    rowSeries[r].forEach((series, s) => {
      const vals = series[c];
      datasets.push({
        data: curvePoints(vals), borderColor: seriesColors[s], borderWidth: 1.1,
        cubicInterpolationMode: 'monotone', pointRadius: 0, fill: false, order: seriesOrder[s]
      });
      datasets.push({
        data: outlinePoints(vals), borderColor: seriesColors[s], borderWidth: 1.1,
        tension: 0, pointRadius: 0, fill: false, order: seriesOrder[s]
      });
    });

    new Chart(cv, {
      type: 'line',
      data: { datasets },
      options: {
        responsive: false,
        animation: false,
        devicePixelRatio: 1,
        events: [],
        layout: {
          padding: {
            left: L - yAxisW - left,
            top: T - top,
            right: right - (L + PW),
            bottom: bottom - (T + PH + xAxisH)
          }
        },
        plugins: { legend: { display: false }, tooltip: { enabled: false } },
        scales: {
          x: {
            type: 'linear', min: -9, max: 189,
            display: r === 5,
            afterFit: s => { s.height = xAxisH; },
            afterBuildTicks: s => { s.ticks = xTicks.map(v => ({ value: v })); },
            grid: { drawOnChartArea: false, drawTicks: true, tickLength: 4, color: '#222', lineWidth: 1.2 },
            border: { display: true, color: '#222', width: 1.4 },
            ticks: {
              autoSkip: false, minRotation: 90, maxRotation: 90, padding: 1,
              color: '#333', font: { family: 'Liberation Sans', size: 10 }
            }
          },
          y: {
            type: 'linear', min: -0.05 * hi, max: 1.05 * hi,
            display: c === 0,
            afterFit: s => { s.width = yAxisW; },
            afterBuildTicks: s => { s.ticks = yTicks[r].map(v => ({ value: v })); },
            grid: { drawOnChartArea: false, drawTicks: true, tickLength: 4, color: '#222', lineWidth: 1.2 },
            border: { display: true, color: '#222', width: 1.4 },
            ticks: {
              autoSkip: false, padding: 2, color: '#333',
              font: { family: 'Liberation Sans', size: 12 },
              callback: v => (v / 1000).toFixed(yDecimals[r])
            }
          }
        }
      }
    });
  }
  addLabel(panelNames[r], 749, panelTop(r) + 26, 15, 90);
}

rounds.forEach((lab, c) => addLabel(lab, panelLeft(c) + PW / 2, 39.5, 14));
addLabel('Round', 397, 11, 18);
addLabel('Density', 13, 267, 19, -90);
addLabel('Error (degrees)', 398, 519, 18);

// legend
addLabel('Data/model', 110, 552, 18, 0, 'lft');
const keyX = [212, 278, 500];
const keyTextX = [234, 302, 524];
seriesNames.forEach((name, s) => {
  const k = document.createElement('div');
  k.className = 'key';
  k.style.left = keyX[s] + 'px';
  k.style.top = '542px';
  k.style.borderColor = seriesColors[s];
  wrap.appendChild(k);
  addLabel(name, keyTextX[s], 552, 13, 0, 'lft');
});
</script>
</body>
</html>
